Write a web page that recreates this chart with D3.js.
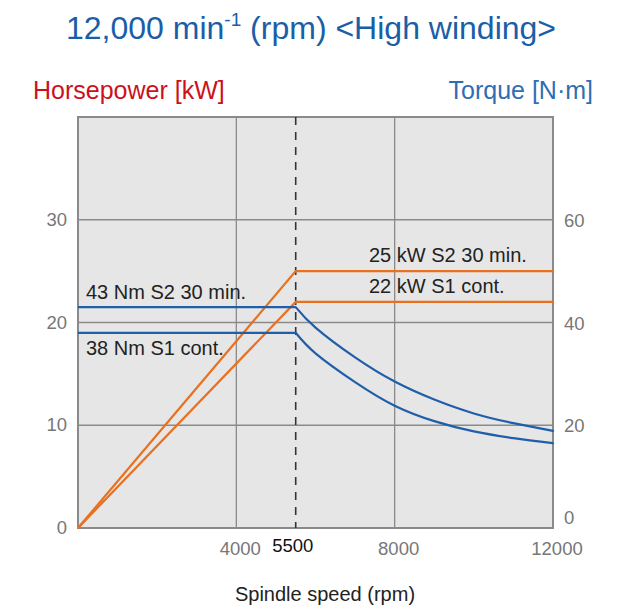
<!DOCTYPE html>
<html>
<head>
<meta charset="utf-8">
<script src="https://cdn.jsdelivr.net/npm/d3@7"></script>
<style>
  body { margin: 0; background: #fff; }
  text { font-family: "Liberation Sans", Arial, sans-serif; }
</style>
</head>
<body>
<svg id="chart" width="634" height="613"></svg>
<script>
// ---- Data ----
const xTicks = [4000, 8000, 12000];
const cornerSpeed = 5500;
const leftTicks = [0, 10, 20, 30];       // kW
const rightTicks = [0, 20, 40, 60];      // N·m
const powerS2 = [[0, 0], [5500, 25], [12000, 25]];
const powerS1 = [[0, 0], [5500, 22], [12000, 22]];
const torqueS2 = [[0, 43], [5500, 43], [6000, 39.0], [7000, 33.2], [8000, 28.5], [9000, 25.0], [10000, 22.3], [11000, 20.4], [12000, 18.9]];
const torqueS1 = [[0, 38], [5500, 38], [6000, 34.0], [7000, 28.4], [8000, 23.8], [9000, 20.8], [10000, 18.8], [11000, 17.5], [12000, 16.5]];
const powerLabels = [["25 kW S2 30 min.", 25], ["22 kW S1 cont.", 22]];
const torqueLabels = [["43 Nm S2 30 min.", 43], ["38 Nm S1 cont.", 38]];

// ---- Layout ----
const svg = d3.select("#chart");
const L = 78, R = 553, T = 117, B = 528;
const x = d3.scaleLinear().domain([0, 12000]).range([L, R]);
const yP = d3.scaleLinear().domain([0, 40]).range([B, T]);
const yT = d3.scaleLinear().domain([0, 80]).range([B, T]);

const orange = "#e8701e", blue = "#1f5faa", grid = "#8a8a8a";

svg.append("rect").attr("x", L).attr("y", T).attr("width", R - L).attr("height", B - T)
  .attr("fill", "#e6e6e6");

svg.append("g").selectAll("line").data(leftTicks.filter(d => d > 0)).join("line")
  .attr("x1", L).attr("x2", R).attr("y1", d => yP(d)).attr("y2", d => yP(d))
  .attr("stroke", grid).attr("stroke-width", 1.3);
svg.append("g").selectAll("line").data(xTicks.filter(d => d < 12000)).join("line")
  .attr("y1", T).attr("y2", B).attr("x1", d => x(d)).attr("x2", d => x(d))
  .attr("stroke", grid).attr("stroke-width", 1.3);

svg.append("rect").attr("x", L).attr("y", T).attr("width", R - L).attr("height", B - T)
  .attr("fill", "none").attr("stroke", grid).attr("stroke-width", 2);

svg.append("line").attr("x1", x(cornerSpeed)).attr("x2", x(cornerSpeed)).attr("y1", T).attr("y2", B)
  .attr("stroke", "#333").attr("stroke-width", 1.6).attr("stroke-dasharray", "8,7");

const lineP = d3.line().x(d => x(d[0])).y(d => yP(d[1]));
const lineTflat = d3.line().x(d => x(d[0])).y(d => yT(d[1]));
const lineTcurve = d3.line().x(d => x(d[0])).y(d => yT(d[1])).curve(d3.curveNatural);
[powerS2, powerS1].forEach(s => svg.append("path").attr("d", lineP(s))
  .attr("fill", "none").attr("stroke", orange).attr("stroke-width", 2.2));
[torqueS2, torqueS1].forEach(s => {
  svg.append("path").attr("d", lineTflat(s.filter(d => d[0] <= cornerSpeed)))
    .attr("fill", "none").attr("stroke", blue).attr("stroke-width", 2.2).attr("stroke-linejoin", "round");
  svg.append("path").attr("d", lineTcurve(s.filter(d => d[0] >= cornerSpeed)))
    .attr("fill", "none").attr("stroke", blue).attr("stroke-width", 2.2).attr("stroke-linecap", "round");
});

const fs = 20;
svg.append("g").selectAll("text").data(powerLabels).join("text")
  .attr("x", 369).attr("y", d => yP(d[1]) - 9).text(d => d[0])
  .attr("font-size", fs).attr("fill", "#222");
svg.append("text").attr("x", 86).attr("y", yT(torqueLabels[0][1]) - 8).text(torqueLabels[0][0])
  .attr("font-size", fs).attr("fill", "#222");
svg.append("text").attr("x", 86).attr("y", yT(torqueLabels[1][1]) + 22).text(torqueLabels[1][0])
  .attr("font-size", fs).attr("fill", "#222");

svg.append("g").selectAll("text").data(leftTicks).join("text")
  .attr("x", 67).attr("y", d => yP(d) + 6).attr("text-anchor", "end")
  .attr("font-size", 18.5).attr("fill", "#777").text(d => d);
svg.append("g").selectAll("text").data(rightTicks).join("text")
  .attr("x", 564).attr("y", d => yT(d) + (d === 0 ? -4 : 7))
  .attr("font-size", 18.5).attr("fill", "#777").text(d => d);
svg.append("g").selectAll("text").data(xTicks).join("text")
  .attr("x", d => x(d) + 4).attr("y", 555).attr("text-anchor", "middle")
  .attr("font-size", 18.5).attr("fill", "#777").text(d => d);
svg.append("text").attr("x", x(cornerSpeed) - 3).attr("y", 552).attr("text-anchor", "middle")
  .attr("font-size", 18.5).attr("fill", "#111").text(cornerSpeed);

svg.append("text").attr("x", 325).attr("y", 601).attr("text-anchor", "middle")
  .attr("font-size", 20).attr("fill", "#222").text("Spindle speed (rpm)");

svg.append("text").attr("x", 33).attr("y", 99).attr("font-size", 25).attr("fill", "#cc1020")
  .text("Horsepower [kW]");
svg.append("text").attr("x", 593).attr("y", 99).attr("text-anchor", "end").attr("font-size", 25)
  .attr("fill", "#2f6db5").text("Torque [N·m]");

const title = svg.append("text").attr("x", 311).attr("y", 39).attr("text-anchor", "middle")
  .attr("font-size", 32).attr("fill", "#1a5ea8");
title.append("tspan").text("12,000 min");
title.append("tspan").attr("dy", -13).attr("font-size", 19).text("-1");
title.append("tspan").attr("dy", 13).text(" (rpm) <High winding>");
</script>
</body>
</html>
